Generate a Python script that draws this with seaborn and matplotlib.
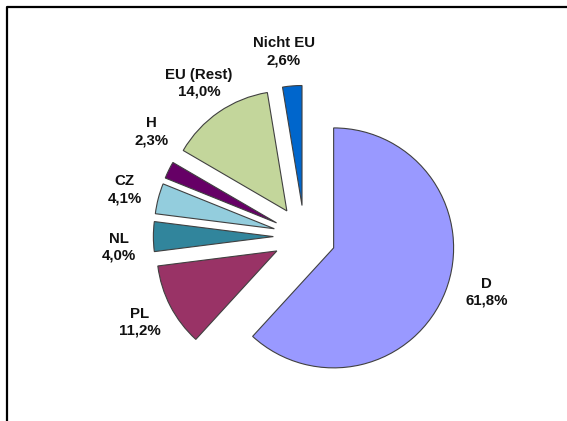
#!/usr/bin/env python3
# exploded pie of shares by country, labels "name\nvalue%" with comma decimals
import matplotlib
matplotlib.use('Agg')
import numpy as np
import seaborn as sns
import matplotlib.pyplot as plt
from matplotlib.lines import Line2D

# data, clockwise from 12 o'clock
countries = ['D', 'PL', 'NL', 'CZ', 'H', 'EU (Rest)', 'Nicht EU']
shares = [61.8, 11.2, 4.0, 4.1, 2.3, 14.0, 2.6]
colors = ['#9999FF', '#993366', '#31859C', '#93CDDD', '#660066', '#C3D69B', '#0066CC']

sns.set_theme(style='white')
plt.rcParams['font.family'] = ['Liberation Sans', 'DejaVu Sans']

fig = plt.figure(figsize=(5.67, 4.21), dpi=100)
ax = fig.add_axes([0, 0, 1, 1])

labels = [f'{c}\n{v:.1f}%'.replace('.', ',') for c, v in zip(countries, shares)]
lab_dist = 1.29
wedges, texts = ax.pie(shares, labels=labels, colors=sns.color_palette(colors),
                       explode=[0.26] * len(shares), startangle=90, counterclock=False,
                       labeldistance=lab_dist,
                       wedgeprops=dict(edgecolor='#404040', linewidth=0.8),
                       textprops=dict(fontsize=10.8, fontweight='bold', color='#111111'))

# small nudges for some labels: (angle offset in degrees, distance)
nudge = {'D': (5, 1.33), 'H': (-10, lab_dist), 'NL': (4, lab_dist), 'Nicht EU': (2, lab_dist)}
for w, t, c in zip(wedges, texts, countries):
    t.set_ha('center')
    t.set_va('center')
    t.set_linespacing(1.25)
    if c in nudge:
        d_ang, dist = nudge[c]
        mid = np.deg2rad((w.theta1 + w.theta2) / 2 + d_ang)
        cx, cy = w.center
        t.set_position((cx + dist * w.r * np.cos(mid), cy + dist * w.r * np.sin(mid)))

ax.set_xlim(-2.538, 2.187)
ax.set_ylim(-1.537, 1.972)
ax.set_aspect('equal')
ax.axis('off')

# frame: only left and top edges are visible in the cropped original
fig.add_artist(Line2D([6.5 / 567, 6.5 / 567, 1.02], [-0.02, 1 - 6.5 / 421, 1 - 6.5 / 421],
                      transform=fig.transFigure, color='black', lw=1.6))

fig.savefig('out.png', dpi=100)
